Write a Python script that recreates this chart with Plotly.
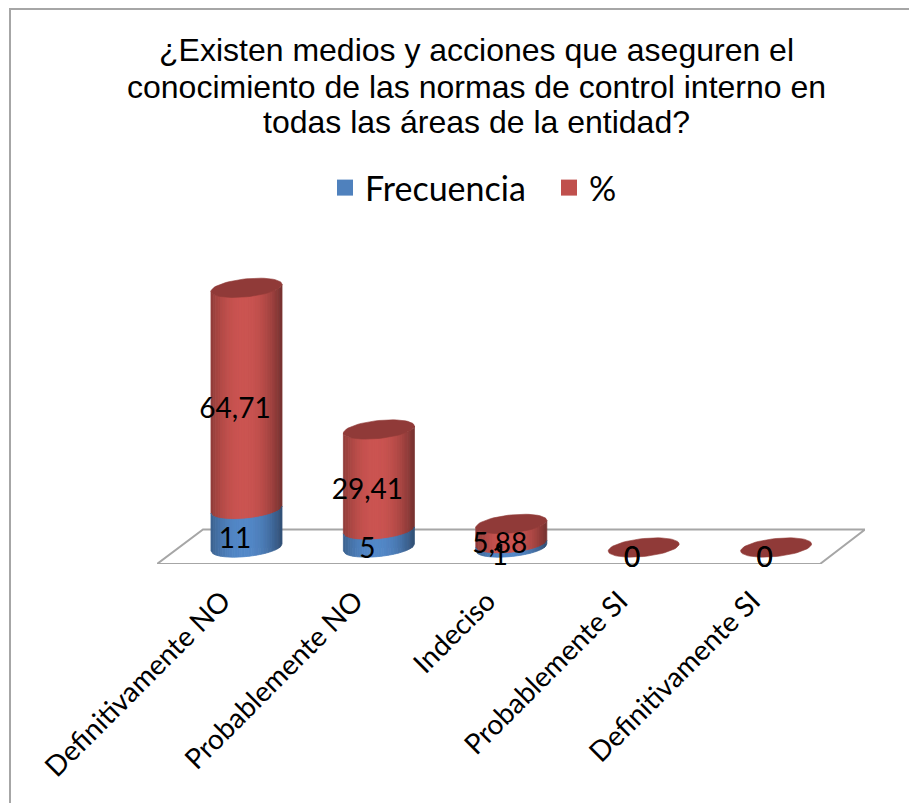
import numpy as np
import plotly.graph_objects as go

categories = ["Definitivamente NO", "Probablemente NO", "Indeciso", "Probablemente SI", "Definitivamente SI"]
frecuencia = [11, 5, 1, 0, 0]
porcentaje = [64.71, 29.41, 5.88, 0, 0]
frecuencia_labels = ["11", "5", "1", "0", "0"]
porcentaje_labels = ["64,71", "29,41", "5,88", "0", "0"]
title_lines = ["¿Existen medios y acciones que aseguren el",
               "conocimiento de las normas de control interno en",
               "todas las áreas de la entidad?"]

# Page body has an 8px margin: figure pixels = page pixels - 8
OFF = 8
W, H = 917 - OFF, 803 - OFF
L, R, T, B = 157 - OFF, 865 - OFF, 240 - OFF, 564 - OFF
PX_PER_X = 132.4
PX_PER_Y = 3.43
X0_PX, Y0_PX = 246.5 - OFF, 547.5 - OFF
x_range = [(L - X0_PX) / PX_PER_X, (R - X0_PX) / PX_PER_X]
y_range = [(Y0_PX - B) / PX_PER_Y, (Y0_PX - T) / PX_PER_Y]
def X(p): return (p - OFF - X0_PX) / PX_PER_X
def Y(p): return (Y0_PX - (p - OFF)) / PX_PER_Y
def PX(p): return (p - OFF - L) / (R - L)
def PY(p): return (B - (p - OFF)) / (B - T)

A = 35.5 / PX_PER_X      # cylinder half width
Bm = 9 / PX_PER_Y        # ellipse half height
TILT = 3.5 / PX_PER_Y    # ellipse tilt

def shade(rgb, f):
    return "rgb(%d,%d,%d)" % tuple(min(255, int(c * f)) for c in rgb)

N = 30
edges = np.linspace(-1, 1, N + 1)
mids = (edges[:-1] + edges[1:]) / 2
def factor(u):
    return 0.68 + 0.38 * (1 - abs(u + 0.08) ** 2.2)

def front(u):
    return -Bm * np.sqrt(max(0, 1 - u * u)) + TILT * u

def body_traces(bases, values, rgb):
    out = []
    for k in range(N):
        xs, ys = [], []
        sub = np.linspace(edges[k], edges[k + 1], 3)
        for i, (b, v) in enumerate(zip(bases, values)):
            if v <= 0:
                continue
            cx = i
            lo = [(cx + A * u, b + front(u)) for u in sub]
            hi = [(cx + A * u, b + v + front(u)) for u in sub[::-1]]
            poly = lo + hi + [lo[0]]
            xs += [p[0] for p in poly] + [None]
            ys += [p[1] for p in poly] + [None]
        col = shade(rgb, factor(mids[k]))
        out.append(go.Scatter(x=xs, y=ys, mode="lines", fill="toself", fillcolor=col,
                              line=dict(color=col, width=0.8), hoverinfo="skip", showlegend=False))
    return out

BLUE = (79, 129, 189)
RED = (192, 80, 77)
x_idx = list(range(len(categories)))
totals = [f + p for f, p in zip(frecuencia, porcentaje)]

fig = go.Figure()
# The stacked bars (core), rounded into cylinders by the shading on top
fig.add_trace(go.Bar(x=x_idx, y=frecuencia, width=1.6 * A, marker_color="#4F81BD", marker_line_width=0,
                     showlegend=False, name="Frecuencia"))
fig.add_trace(go.Bar(x=x_idx, y=porcentaje, width=1.6 * A, marker_color="#C0504D", marker_line_width=0,
                     showlegend=False, name="%"))

for t in body_traces(frecuencia, porcentaje, RED):
    fig.add_trace(t)
for t in body_traces([0] * len(frecuencia), frecuencia, BLUE):
    fig.add_trace(t)

# top caps
cx_all, cy_all = [], []
tt = np.linspace(0, 2 * np.pi, 61)
for i, v in enumerate(totals):
    cx_all += list(i + A * np.cos(tt)) + [None]
    cy_all += list(v + TILT * np.cos(tt) + Bm * np.sin(tt)) + [None]
fig.add_trace(go.Scatter(x=cx_all, y=cy_all, mode="lines", fill="toself", fillcolor="#903A38",
                         line=dict(color="#903A38", width=0.6), hoverinfo="skip", showlegend=False))

# value labels
DX = -11.5 / PX_PER_X
DY = -12.5 / PX_PER_Y
fig.add_trace(go.Scatter(x=[i + DX for i in x_idx],
                         y=[f / 2 + DY for f in frecuencia],
                         mode="text", text=frecuencia_labels, textposition="middle center",
                         textfont=dict(family="Lato", size=28, color="#000000"),
                         hoverinfo="skip", showlegend=False, cliponaxis=False))
fig.add_trace(go.Scatter(x=[i + DX for i in x_idx],
                         y=[f + p / 2 + DY for f, p in zip(frecuencia, porcentaje)],
                         mode="text", text=porcentaje_labels, textposition="middle center",
                         textfont=dict(family="Lato", size=28, color="#000000"),
                         hoverinfo="skip", showlegend=False, cliponaxis=False))

# legend entries
for name, col in (("Frecuencia", "#4F81BD"), ("%", "#C0504D")):
    fig.add_trace(go.Scatter(x=[None], y=[None], mode="markers", name=name,
                             marker=dict(symbol="square", size=21, color=col)))

floor = dict(type="path", xref="x", yref="y", layer="below", line=dict(color="#A6A6A6", width=2),
             path="M %f,%f L %f,%f L %f,%f L %f,%f Z" % (X(157), Y(564), X(203), Y(529.5),
                                                          X(865), Y(529.5), X(820), Y(564)))
border = dict(type="path", xref="paper", yref="paper", line=dict(color="#A6A6A6", width=2),
              path="M %f,%f L %f,%f L %f,%f" % (PX(10), PY(803), PX(10), PY(9), PX(917), PY(9)))

title_y = [50, 87, 122]
annotations = [dict(text=t, xref="paper", yref="paper", x=PX(476), y=PY(py), xanchor="center", yanchor="middle",
                    showarrow=False, font=dict(family="Liberation Sans", size=32, color="#000000"))
               for t, py in zip(title_lines, title_y)]

LABEL_SHIFT = 24 / PX_PER_X

fig.update_layout(
    width=W, height=H, autosize=False,
    margin=dict(l=L, r=W - R, t=T, b=H - B, pad=0),
    paper_bgcolor="white", plot_bgcolor="rgba(0,0,0,0)",
    barmode="stack", bargap=0,
    shapes=[floor, border], annotations=annotations,
    xaxis=dict(range=x_range, tickmode="array", tickvals=[i - LABEL_SHIFT for i in x_idx], ticktext=categories,
               tickangle=-45, showgrid=False, zeroline=False, showline=False, ticks="", ticklabelstandoff=14,
               tickfont=dict(family="Lato", size=28, color="#000000")),
    yaxis=dict(range=y_range, visible=False, showgrid=False, zeroline=False),
    legend=dict(orientation="h", x=317 / W, y=1 - 151 / H, xref="container", yref="container",
                xanchor="left", yanchor="top", itemsizing="trace", traceorder="normal",
                entrywidth=179, entrywidthmode="pixels",
                font=dict(family="Lato", size=34, color="#000000"), bgcolor="rgba(0,0,0,0)"),
)
fig.write_html("out.html")
